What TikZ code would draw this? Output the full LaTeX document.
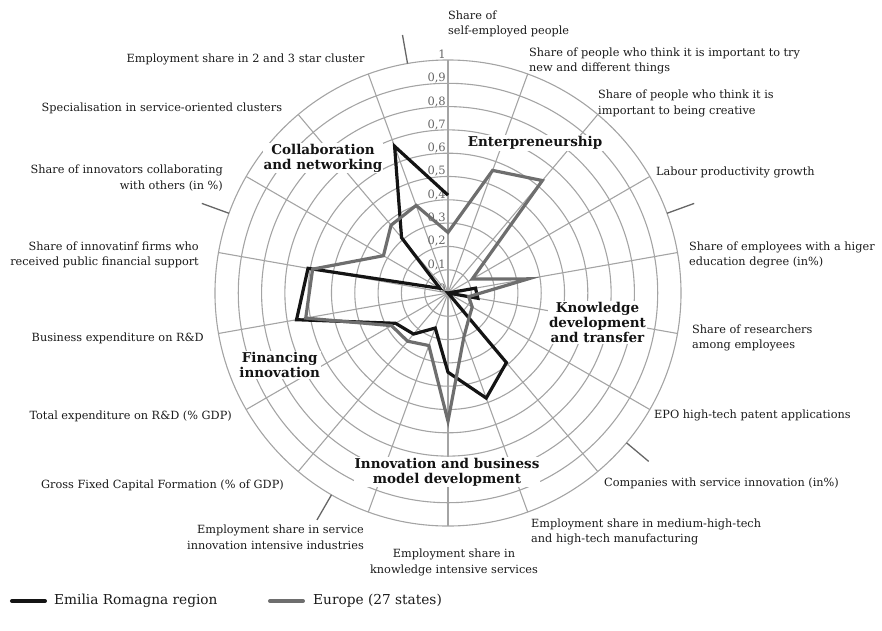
\documentclass[tikz,border=0pt]{standalone}
\usepackage{amsmath}
\usepackage{fontspec}
\setmainfont{DejaVu Serif}
\usetikzlibrary{calc}

\definecolor{gridgray}{HTML}{A4A4A4}
\definecolor{tickgray}{HTML}{666666}
\definecolor{eugray}{HTML}{6E6E6E}
\definecolor{erblack}{HTML}{141414}
\definecolor{txtgray}{HTML}{1A1A1A}

\newcommand{\Rmax}{233}

\tikzset{
  grid line/.style={draw=gridgray, line width=1.1pt},
  sep tick/.style={draw=tickgray, line width=1.3pt},
  er line/.style={draw=erblack, line width=3.2pt},
  eu line/.style={draw=eugray, line width=3.2pt},
  axis label/.style={text=txtgray, font=\fontsize{11.3}{15.5}\selectfont, inner sep=1pt},
  group label/.style={text=erblack, font=\fontsize{13.5}{15}\selectfont\bfseries, align=center, fill=white, inner sep=1pt},
  value label/.style={text=tickgray, font=\fontsize{11.5}{15}\selectfont, anchor=east, inner sep=1pt},
  legend label/.style={text=txtgray, font=\fontsize{13.7}{17}\selectfont, anchor=west, inner sep=1pt},
}

\begin{document}
\begin{tikzpicture}[x=1pt, y=1pt]
  \useasboundingbox (-448,-337) rectangle (434,293);
  \coordinate (O) at (0,0);

  % grid: rings and spokes
  \foreach \k in {1,...,10}
    \draw[grid line] (O) circle[radius={0.1*\k*\Rmax}];
  \foreach \k in {1,...,18} {
    \coordinate (A\k) at ({110-20*\k}:\Rmax);
    \draw[grid line] (O) -- (A\k);
  }

  % ticks between the groups
  \foreach \a in {350,70,130,210,290}
    \draw[sep tick] ({90-\a}:\Rmax) -- ({90-\a}:262);

  % scale
  \node[value label] (V0) at (-1,5) {0};
  \foreach \k in {1,...,9}
    \node[value label] (V\k) at (-1,{0.1*\k*\Rmax+5}) {0,\k};
  \node[value label] (V10) at (-1,{\Rmax+6}) {1};

  % group names
  \node[group label] (G1) at (-125,135) {Collaboration\\and networking};
  \node[group label] (G2) at (87,150) {Enterpreneurship};
  \node[group label] (G3) at (149.5,-29.3) {Knowledge\\development\\and transfer};
  \node[group label] (G4) at (-168.3,-72) {Financing\\innovation};
  \node[group label] (G5) at (-1,-179) {Innovation and business\\model development};

  % Emilia Romagna region
  \coordinate (E1) at (90:{0.42*\Rmax});
  \coordinate (E4) at (O);
  \coordinate (E5) at (10:{0.12*\Rmax});
  \coordinate (E6) at (-10:{0.13*\Rmax});
  \coordinate (E7) at (O);
  \coordinate (E8) at (-50:{0.39*\Rmax});
  \coordinate (E9) at (-70:{0.48*\Rmax});
  \coordinate (E10) at (-90:{0.34*\Rmax});
  \coordinate (E11) at (-110:{0.16*\Rmax});
  \coordinate (E12) at (-130:{0.23*\Rmax});
  \coordinate (E13) at (-150:{0.26*\Rmax});
  \coordinate (E14) at (-170:{0.66*\Rmax});
  \coordinate (E15) at (170:{0.61*\Rmax});
  \coordinate (E16) at (150:{0.04*\Rmax});
  \coordinate (E17) at (130:{0.31*\Rmax});
  \coordinate (E18) at (110:{0.67*\Rmax});

  \draw[er line] (E4) -- (E5) -- (E6) -- (E7) -- (E8) -- (E9) -- (E10)
    -- (E11) -- (E12) -- (E13) -- (E14) -- (E15) -- (E16) -- (E17)
    -- (E18) -- (E1);

  % Europe (27 states)
  \coordinate (U1) at (90:{0.26*\Rmax});
  \coordinate (U2) at (70:{0.56*\Rmax});
  \coordinate (U3) at (50:{0.63*\Rmax});
  \coordinate (U4) at (30:{0.12*\Rmax});
  \coordinate (U5) at (10:{0.35*\Rmax});
  \coordinate (U6) at (-10:{0.09*\Rmax});
  \coordinate (U7) at (-30:{0.12*\Rmax});
  \coordinate (U8) at (-50:{0.14*\Rmax});
  \coordinate (U9) at (-70:{0.20*\Rmax});
  \coordinate (U10) at (-90:{0.55*\Rmax});
  \coordinate (U11) at (-110:{0.24*\Rmax});
  \coordinate (U12) at (-130:{0.27*\Rmax});
  \coordinate (U13) at (-150:{0.28*\Rmax});
  \coordinate (U14) at (-170:{0.62*\Rmax});
  \coordinate (U15) at (170:{0.59*\Rmax});
  \coordinate (U16) at (150:{0.32*\Rmax});
  \coordinate (U17) at (130:{0.38*\Rmax});
  \coordinate (U18) at (110:{0.40*\Rmax});

  \draw[eu line] (U1) -- (U2) -- (U3) -- (U4) -- (U5) -- (U6) -- (U7)
    -- (U8) -- (U9) -- (U10) -- (U11) -- (U12) -- (U13) -- (U14)
    -- (U15) -- (U16) -- (U17) -- (U18) -- cycle;

  % axis names
  \node[axis label, anchor=west, align=left] (L1) at (-1,269) {Share of\\self-employed people};
  \node[axis label, anchor=west, align=left] (L2) at (80,232) {Share of people who think it is important to try\\new and different things};
  \node[axis label, anchor=west, align=left] (L3) at (149,189.5) {Share of people who think it is\\important to being creative};
  \node[axis label, anchor=west] (L4) at (207,121) {Labour productivity growth};
  \node[axis label, anchor=west, align=left] (L5) at (240,38) {Share of employees with a higer\\education degree (in\%)};
  \node[axis label, anchor=west, align=left] (L6) at (243,-45) {Share of researchers\\among employees};
  \node[axis label, anchor=west] (L7) at (205,-122) {EPO high-tech patent applications};
  \node[axis label, anchor=west] (L8) at (155,-190) {Companies with service innovation (in\%)};
  \node[axis label, anchor=west, align=left] (L9) at (82,-239) {Employment share in medium-high-tech\\and high-tech manufacturing};
  \node[axis label, align=center] (L10) at (6,-269.5) {Employment share in\\knowledge intensive services};
  \node[axis label, anchor=east, align=right] (L11) at (-83,-244.3) {Employment share in service\\innovation intensive industries};
  \node[axis label, anchor=east] (L12) at (-163,-192) {Gross Fixed Capital Formation (\% of GDP)};
  \node[axis label, anchor=east] (L13) at (-215,-123.7) {Total expenditure on R\&D (\% GDP)};
  \node[axis label, anchor=east] (L14) at (-243,-45.3) {Business expenditure on R\&D};
  \node[axis label, anchor=east, align=right] (L15) at (-248,38) {Share of innovatinf firms who\\received public financial support};
  \node[axis label, anchor=east, align=right] (L16) at (-224,114.7) {Share of innovators collaborating\\with others (in \%)};
  \node[axis label, anchor=east] (L17) at (-164.7,184.7) {Specialisation in service-oriented clusters};
  \node[axis label, anchor=east] (L18) at (-82.3,234) {Employment share in 2 and 3 star cluster};

  % legend
  \coordinate (K1a) at (-436,-308);
  \coordinate (K1b) at (-403,-308);
  \coordinate (K2a) at (-178,-308);
  \coordinate (K2b) at (-145,-308);
  \draw[er line, line width=4pt, line cap=round] (K1a) -- (K1b);
  \draw[eu line, line width=4pt, line cap=round] (K2a) -- (K2b);
  \node[legend label] (K1) at (-395,-308) {Emilia Romagna region};
  \node[legend label] (K2) at (-136,-308) {Europe (27 states)};
\end{tikzpicture}
\end{document}
